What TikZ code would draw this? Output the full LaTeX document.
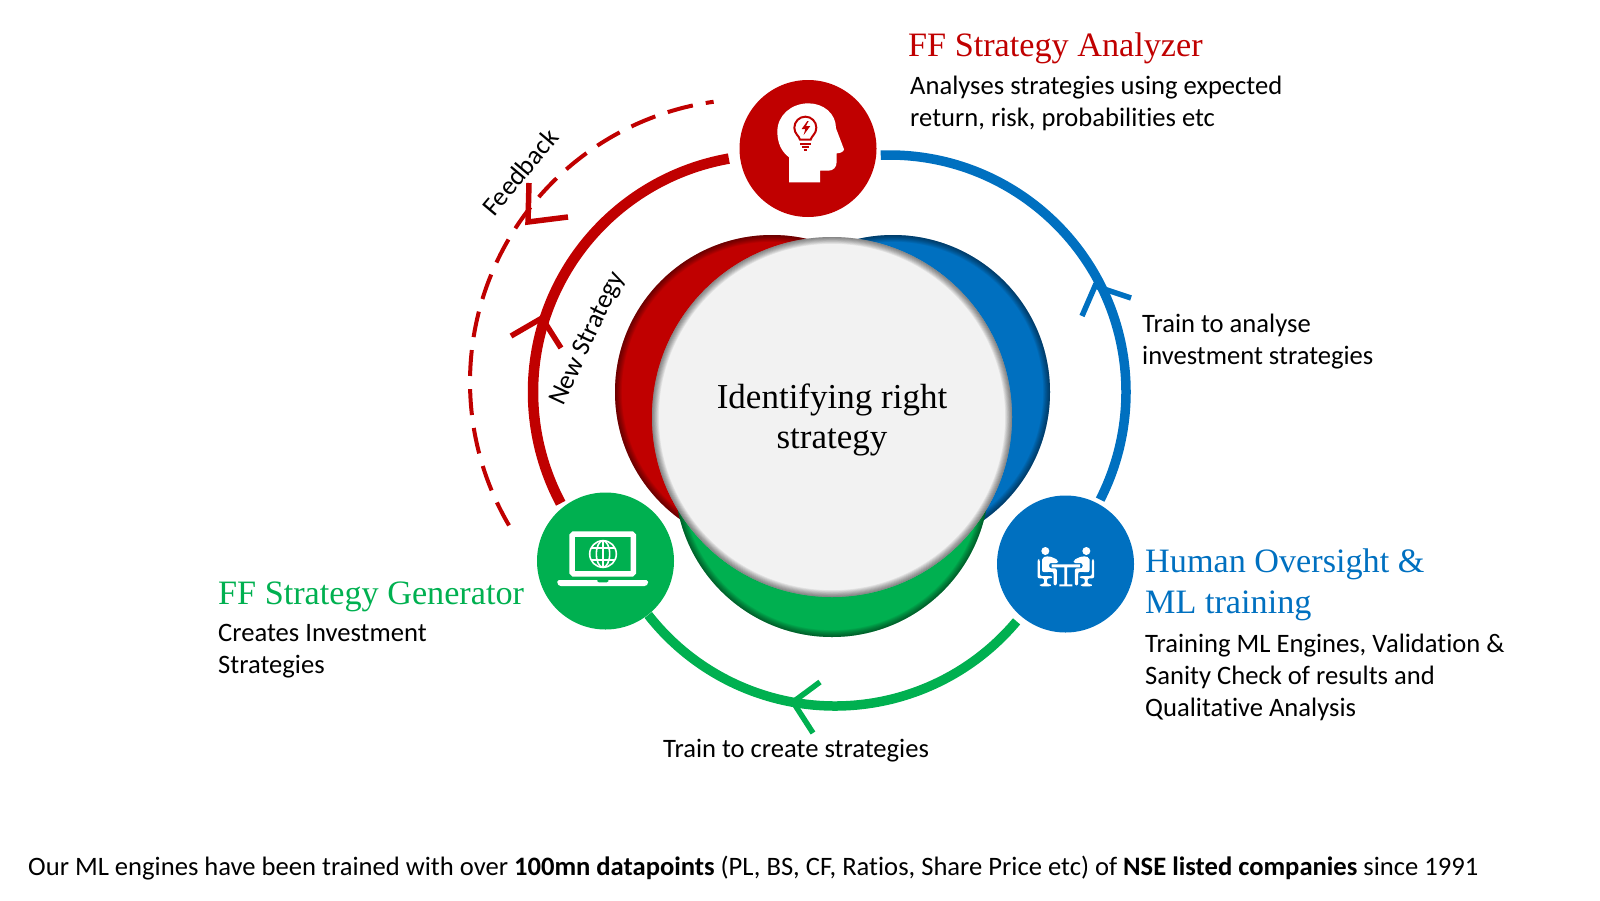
\documentclass[tikz,border=0pt]{standalone}
\usepackage{fontspec}
\setmainfont[Ligatures=NoCommon]{Carlito}
\newfontfamily\headfont{Liberation Serif}
\definecolor{ffred}{HTML}{C00000}
\definecolor{ffblue}{HTML}{0070C0}
\definecolor{ffgreen}{HTML}{00B050}
\definecolor{ffgrey}{HTML}{F2F2F2}
\tikzset{
    rimdisc/.style={circle,inner sep=0pt,minimum size=2*#1,
        path picture={
            \foreach \k in {1,...,8}
                \draw[black,opacity=.065,line width=\k*1.7pt]
                    (path picture bounding box.center) circle (#1);
        }},
    icondisc/.style={circle,inner sep=0pt,minimum size=137pt},
    ringline/.style={line width=9.5pt},
    dashline/.style={line width=4pt,dash pattern=on 26pt off 13.1pt,dash phase=18pt},
    tipline/.style={line width=5.5pt},
    bodytext/.style={anchor=north west,inner sep=0pt,align=left,font=\fontsize{26.6}{32}\selectfont},
    headtext/.style={anchor=north west,inner sep=0pt,align=left,font=\headfont\fontsize{34.2}{40.5}\selectfont},
    tilttext/.style={inner sep=0pt,font=\fontsize{26.6}{32}\selectfont},
}
\begin{document}
\begin{tikzpicture}[x=1pt,y=-1pt]
\useasboundingbox (0,0) rectangle (1600,900);

% Disques du centre
\node[rimdisc=157pt,fill=ffblue] (blueDisc) at (893,392) {};
\node[rimdisc=157pt,fill=ffred] (redDisc) at (772,392) {};
\node[rimdisc=157pt,fill=ffgreen] (greenDisc) at (832,480) {};
\node[rimdisc=180pt,fill=ffgrey] (mainDisc) at (832,417) {};
\node[align=center,font=\headfont\fontsize{35}{40.5}\selectfont] (mainText) at (832,420) {Identifying right\\strategy};

% Anneau
\coordinate (blueRing) at (889,392);
\coordinate (redRing) at (770,392);
\coordinate (greenRing) at (835,469);
\coordinate (dashRing) at (753,382);
\draw[ringline,ffblue] ([shift={(-92:237)}]blueRing) arc[start angle=-92,end angle=27,radius=237];
\draw[ringline,ffred,line width=10.5pt] ([shift={(260:237)}]redRing) arc[start angle=260,end angle=152,radius=237];
\draw[ringline,ffgreen] ([shift={(40:237)}]greenRing) arc[start angle=40,end angle=142,radius=237];
\draw[dashline,ffred] ([shift={(262:283)}]dashRing) arc[start angle=262,end angle=149.5,radius=283];

% Pointes
\draw[tipline,ffblue] (1131,298) -- (1095,286) -- (1082,316);
\draw[tipline,ffgreen] (820,682) -- (793,702) -- (813,733);
\draw[tipline,ffred] (511,336) -- (542,318) -- (561,348);
\draw[tipline,ffred] (529,183) -- (528,222) -- (568,217);

% Disques des icones
\node[icondisc,fill=ffred] (headDisc) at (808,148.5) {};
\node[icondisc,fill=ffgreen] (laptopDisc) at (605.5,561) {};
\node[icondisc,fill=ffblue] (peopleDisc) at (1065.5,564) {};

% Tete
\begin{scope}[shift={(700,60)},x=1/3*1pt,y=-1/3*1pt]
\fill[white] (267,367) -- (267,292) .. controls (245,275) and (232,250) .. (232,215)
    .. controls (232,165) and (275,130) .. (325,130) .. controls (370,130) and (408,160) .. (408,205)
    -- (432,268) .. controls (432,275) and (420,280) .. (410,280) -- (410,305)
    .. controls (410,322) and (400,332) .. (385,332) -- (360,332) -- (360,367) -- cycle;
\draw[ffred,line width=2pt] (300,239) .. controls (298,228) and (283,222) .. (283,203)
    arc[start angle=180,end angle=360,radius=33] .. controls (349,222) and (334,228) .. (332,239) -- cycle;
\draw[ffred,line width=1.8pt] (300,252) -- (332,252) (305,261) -- (328,261) (311,270) -- (322,270);
\fill[ffred] (322,183) -- (305,207) -- (316,207) -- (311,225) -- (331,198) -- (318,198) -- (326,183) -- cycle;
\end{scope}

% Portable
\begin{scope}[shift={(510,470)},x=1/3*1pt,y=-1/3*1pt]
\draw[white,line width=5.5pt,rounded corners=1.5pt] (186.5,192.5) rectangle (370,311.5);
\fill[white,rounded corners=1.5pt] (142,330) -- (414,330) -- (414,342) -- (408,348) -- (148,348) -- (142,342) -- cycle;
\fill[ffgreen] (262,330) -- (295,330) -- (295,334) -- (290,337) -- (267,337) -- (262,334) -- cycle;
\draw[white,line width=1.6pt] (279,252) circle (40);
\draw[white,line width=1.6pt] (279,252) ellipse (20 and 40);
\draw[white,line width=1.6pt] (279,212) -- (279,292) (244,234) -- (314,234) (244,270) -- (314,270);
\end{scope}

% Personnes
\begin{scope}[shift={(960,470)},x=1/3*1pt,y=-1/3*1pt]
\fill[white] (275,283) rectangle (360,292) (313,292) rectangle (321,343) (298,343) rectangle (337,349);
\foreach \s in {1,-1}{
\begin{scope}[shift={(317.5,0)},xscale=\s]
\fill[white] (-61.5,231) ++(0,12) circle (12);
\fill[white,rounded corners=2pt] (-71,262) -- (-50,258) -- (-23,270) -- (-23,279) -- (-50,279) -- (-50,295) -- (-27,295) -- (-27,346) -- (-37,346) -- (-37,305) -- (-71,307) -- cycle;
\fill[white,rounded corners=2pt] (-85,268) -- (-78,268) -- (-78,318) -- (-42,318) -- (-42,325) -- (-57,325) -- (-57,342) -- (-45,342) -- (-45,349) -- (-78,349) -- (-78,342) -- (-65,342) -- (-65,325) -- (-85,325) -- cycle;
\end{scope}
}
\end{scope}

% Textes
\node[headtext,ffred] (analyzerTitle) at (908,33) {FF Strategy Analyzer};
\node[bodytext] (analyzerText) at (910,76) {Analyses strategies using expected\\return, risk, probabilities etc};
\node[bodytext] (analyseText) at (1142,314) {Train to analyse\\investment strategies};
\node[headtext,ffblue] (humanTitle) at (1145,549) {Human Oversight \&\\ML training};
\node[bodytext] (humanText) at (1145,634) {Training ML Engines, Validation \&\\Sanity Check of results and\\Qualitative Analysis};
\node[headtext,ffgreen] (generatorTitle) at (218,582) {FF Strategy Generator};
\node[bodytext] (generatorText) at (218,624) {Creates Investment\\Strategies};
\node[bodytext] (createText) at (663,739) {Train to create strategies};
\node[tilttext,rotate=50] (feedbackText) at (520,172) {Feedback};
\node[tilttext,rotate=65] (newText) at (588,339) {New Strategy};
\node[bodytext] (footText) at (28,856) {Our ML engines have been trained with over \textbf{100mn datapoints} (PL, BS, CF, Ratios, Share Price etc) of \textbf{NSE listed companies} since 1991};
\end{tikzpicture}
\end{document}
